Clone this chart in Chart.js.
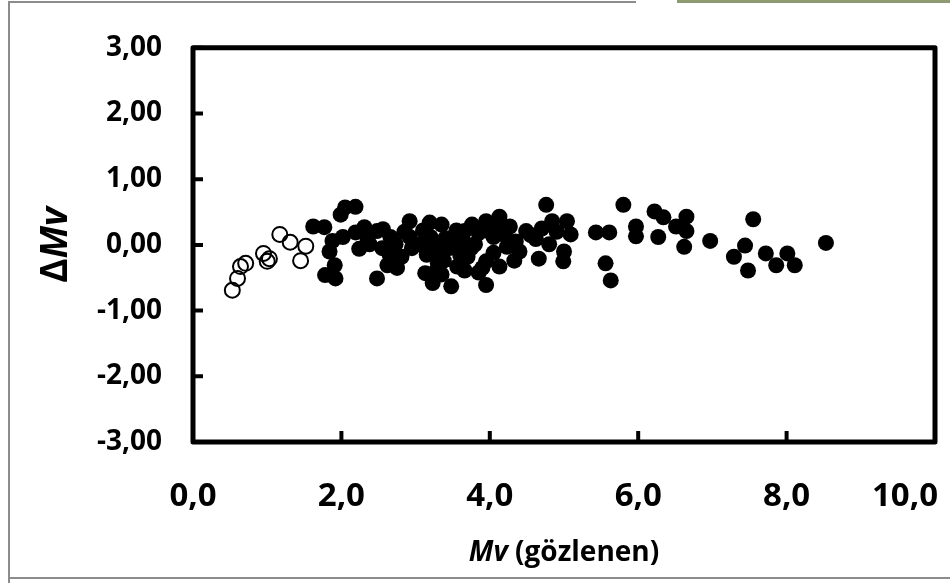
<!DOCTYPE html>
<html>
<head>
<meta charset="utf-8">
<script src="https://cdn.jsdelivr.net/npm/chart.js@4/dist/chart.umd.min.js"></script>
<style>
  html, body { margin: 0; padding: 0; background: #fff; }
  #wrap { width: 950px; height: 583px; position: relative; }
</style>
</head>
<body>
<div id="wrap"><canvas id="myChart" width="950" height="583"></canvas></div>
<script>
// acik halkalar (parlak yildizlar)
const openX = [0.53, 0.60, 0.64, 0.71, 0.95, 1.00, 1.03, 1.17, 1.31, 1.52, 1.45];
const openY = [-0.69, -0.51, -0.33, -0.28, -0.13, -0.25, -0.21, 0.16, 0.04, -0.02, -0.24];

// dolu noktalar
const fillX = [1.62, 1.77, 1.99, 2.05, 2.19, 1.88, 1.84, 1.91, 1.78, 1.92,
  2.02, 2.19, 2.31, 2.48, 2.56, 2.24, 2.38, 2.66, 2.73, 2.62,
  2.48, 2.81, 2.92, 2.92, 3.05, 3.19, 3.35, 3.20, 3.13, 3.23,
  3.48, 3.38, 3.52, 3.66, 3.33, 3.56, 3.28, 3.76, 3.95, 4.13,
  4.76, 4.27, 5.04, 4.84, 4.49, 5.09, 4.62, 4.80, 3.80, 4.05,
  4.23, 3.70, 3.95, 4.13, 4.33, 4.66, 4.99, 3.95, 3.66, 5.43,
  5.56, 5.61, 5.63, 5.80, 5.97, 5.97, 6.22, 6.34, 6.27, 6.51,
  6.65, 6.65, 6.62, 6.97, 7.55, 7.44, 7.29, 7.48, 7.72, 8.01,
  7.86, 8.11, 8.53,
  2.55, 2.65, 2.85, 2.95, 3.10, 3.15, 3.25, 3.30, 3.40, 3.45,
  3.55, 3.60, 3.65, 3.75, 3.85, 3.90, 4.00, 4.05, 4.10, 4.20,
  4.35, 4.40, 4.55, 4.70, 4.90, 5.00, 3.35, 3.85, 2.35, 2.75];
const fillY = [0.28, 0.27, 0.46, 0.57, 0.58, 0.06, -0.10, -0.31, -0.46, -0.51,
  0.12, 0.19, 0.27, 0.21, 0.24, -0.06, 0.01, 0.12, 0.01, -0.31,
  -0.51, -0.18, 0.36, 0.12, 0.01, 0.34, 0.31, 0.12, -0.43, -0.58,
  -0.63, -0.24, 0.01, 0.21, -0.13, -0.33, -0.39, 0.31, 0.36, 0.43,
  0.61, 0.28, 0.36, 0.36, 0.21, 0.16, 0.09, 0.01, 0.01, 0.12,
  -0.03, -0.18, -0.25, -0.33, -0.24, -0.21, -0.25, -0.61, -0.39, 0.19,
  -0.28, 0.19, -0.54, 0.61, 0.28, 0.13, 0.51, 0.42, 0.12, 0.28,
  0.43, 0.21, -0.03, 0.06, 0.39, -0.01, -0.18, -0.39, -0.13, -0.13,
  -0.31, -0.31, 0.03,
  -0.05, -0.15, 0.20, -0.05, 0.22, -0.15, 0.00, -0.28, 0.10, -0.05,
  0.22, -0.15, 0.05, -0.05, 0.18, -0.35, 0.20, -0.12, 0.30, 0.15,
  0.05, -0.10, 0.15, 0.25, 0.20, -0.10, -0.45, -0.42, 0.10, -0.35];

const X_MIN = 0, X_MAX = 10, X_STEP = 2;
const Y_MIN = -3, Y_MAX = 3, Y_STEP = 1;

const toPoints = (xs, ys) => xs.map((x, i) => ({x: x, y: ys[i]}));
const fmtX = v => v.toFixed(1).replace('.', ',');
const fmtY = v => v.toFixed(2).replace('.', ',');

// cerceve, kutu, ice bakan tikler, x etiketleri ve eksen basliklari
const decor = {
  id: 'decor',
  beforeDraw(chart) {
    const ctx = chart.ctx;
    ctx.save();
    ctx.fillStyle = '#fff';
    ctx.fillRect(0, 0, chart.width, chart.height);
    ctx.strokeStyle = '#8c8c8c';
    ctx.lineWidth = 2;
    ctx.beginPath();
    ctx.moveTo(9, 583); ctx.lineTo(9, 2); ctx.lineTo(636, 2);
    ctx.moveTo(8, 578); ctx.lineTo(950, 578);
    ctx.stroke();
    ctx.strokeStyle = '#8e9a72';
    ctx.lineWidth = 3;
    ctx.beginPath();
    ctx.moveTo(677, 1.5); ctx.lineTo(950, 1.5);
    ctx.stroke();
    ctx.restore();
  },
  afterDatasetsDraw(chart) {
    const ctx = chart.ctx;
    const a = chart.chartArea;
    const xs = chart.scales.x, ys = chart.scales.y;
    ctx.save();
    ctx.strokeStyle = '#000';
    ctx.lineWidth = 5;
    ctx.lineJoin = 'round';
    ctx.strokeRect(a.left, a.top, a.right - a.left, a.bottom - a.top);
    ctx.lineWidth = 4;
    ctx.beginPath();
    ys.ticks.forEach(t => {
      const py = ys.getPixelForValue(t.value);
      ctx.moveTo(a.left, py); ctx.lineTo(a.left + 10, py);
    });
    xs.ticks.forEach(t => {
      const px = xs.getPixelForValue(t.value);
      ctx.moveTo(px, a.bottom); ctx.lineTo(px, a.bottom - 11);
    });
    ctx.stroke();

    // x etiketleri: son etiket cerceve icinde kalsin
    ctx.fillStyle = '#000';
    ctx.textBaseline = 'middle';
    ctx.textAlign = 'left';
    ctx.font = 'bold 33px "Open Sans"';
    xs.ticks.forEach(t => {
      const txt = fmtX(t.value);
      const w = ctx.measureText(txt).width;
      let lx = xs.getPixelForValue(t.value) - w / 2;
      if (lx + w > 938) lx = 938 - w;
      ctx.fillText(txt, lx, 497);
    });

    // x ekseni basligi: "Mv (gözlenen)"
    const f1 = 'italic bold 28px "Open Sans"';
    const f2 = 'bold 28px "Open Sans"';
    ctx.font = f1; const w1 = ctx.measureText('Mv').width;
    ctx.font = f2; const w2 = ctx.measureText(' (gözlenen)').width;
    const cx = (a.left + a.right) / 2 - (w1 + w2) / 2;
    ctx.font = f1; ctx.fillText('Mv', cx, 553);
    ctx.font = f2; ctx.fillText(' (gözlenen)', cx + w1, 553);

    // y ekseni basligi: "ΔMv"
    ctx.translate(56, (a.top + a.bottom) / 2);
    ctx.rotate(-Math.PI / 2);
    const g1 = 'bold 37px "Open Sans"';
    const g2 = 'italic bold 37px "Open Sans"';
    ctx.font = g1; const d1 = ctx.measureText('Δ').width;
    ctx.font = g2; const d2 = ctx.measureText('Mv').width;
    const sx = -(d1 + d2) / 2;
    ctx.font = g1; ctx.fillText('Δ', sx, 0);
    ctx.font = g2; ctx.fillText('Mv', sx + d1, 0);
    ctx.restore();
  }
};

new Chart(document.getElementById('myChart').getContext('2d'), {
  type: 'scatter',
  data: {
    datasets: [
      {
        label: 'acik',
        data: toPoints(openX, openY),
        pointRadius: 7.5,
        pointBorderWidth: 2,
        borderColor: '#000',
        backgroundColor: 'rgba(255,255,255,0)',
        pointHoverRadius: 7.5
      },
      {
        label: 'dolu',
        data: toPoints(fillX, fillY),
        pointRadius: 8,
        pointBorderWidth: 0,
        borderColor: '#000',
        backgroundColor: '#000',
        pointHoverRadius: 8
      }
    ]
  },
  options: {
    responsive: false,
    animation: false,
    layout: { padding: { left: 0, right: 15, top: 40, bottom: 0 } },
    plugins: { legend: { display: false }, tooltip: { enabled: false } },
    scales: {
      x: {
        type: 'linear',
        min: X_MIN, max: X_MAX,
        grid: { display: false, drawTicks: false },
        border: { display: false },
        ticks: { stepSize: X_STEP, display: false },
        afterFit: s => { s.height = 141; s.paddingLeft = 0; s.paddingRight = 0; }
      },
      y: {
        type: 'linear',
        min: Y_MIN, max: Y_MAX,
        grid: { display: false, drawTicks: false },
        border: { display: false },
        ticks: {
          stepSize: Y_STEP,
          padding: 31,
          color: '#000',
          font: { family: 'Open Sans', weight: 'bold', size: 28 },
          callback: v => fmtY(v)
        },
        afterFit: s => { s.width = 193; }
      }
    }
  },
  plugins: [decor]
});
</script>
</body>
</html>
